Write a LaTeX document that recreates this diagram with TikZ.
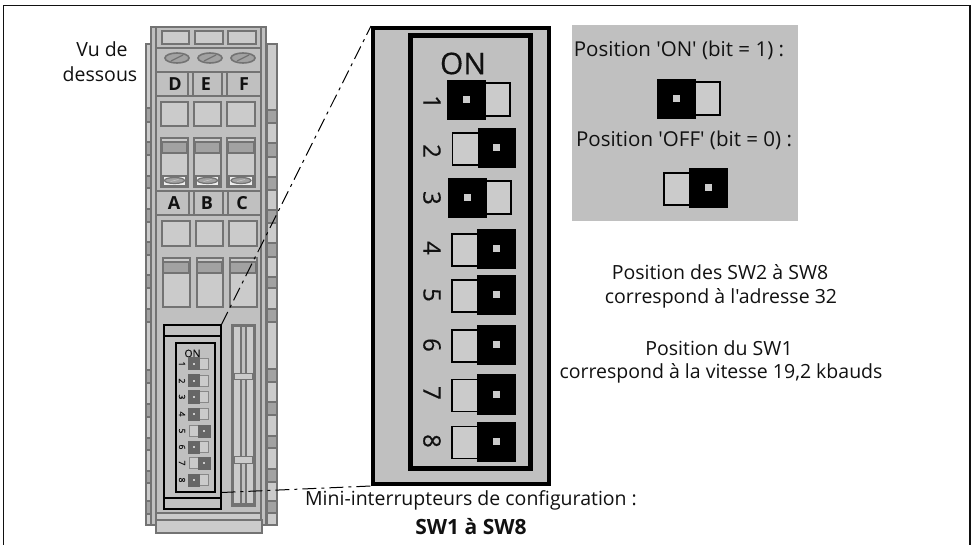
\documentclass[tikz,border=0pt]{standalone}
\usepackage{fontspec}
\usetikzlibrary{calc}
\setmainfont{Open Sans}
\newfontfamily\uifont{Open Sans}
\newfontfamily\heavyfont{Open Sans}[FakeBold=0.35]
\definecolor{bodyg}{HTML}{C0C0C0}
\definecolor{lightg}{HTML}{CBCBCB}
\definecolor{strk}{HTML}{737373}
\definecolor{darkg}{HTML}{A2A2A2}
\definecolor{minidk}{HTML}{666666}
\definecolor{inkc}{HTML}{111111}
\tikzset{
  x=1pt,y=-1pt,
  part/.style={draw=strk,fill=lightg,line width=2pt},
  partdk/.style={draw=strk,fill=darkg,line width=1.6pt},
  partbody/.style={draw=strk,fill=bodyg,line width=2pt},
  blackframe/.style={draw=black,fill=bodyg,line width=#1,rectangle,inner sep=0pt},
  swdark/.style={fill=black},
  swlight/.style={draw=black,fill=lightg,line width=1.4pt},
  swhole/.style={fill=lightg},
  mdark/.style={fill=minidk},
  mlight/.style={draw=strk!85,fill=lightg,line width=1pt},
  mhole/.style={fill=lightg},
  txt/.style={font=\uifont\fontsize{19.5}{23}\selectfont,text=inkc,inner sep=0pt},
  legendtxt/.style={font=\uifont\fontsize{20.5}{23}\selectfont,text=inkc,inner sep=0pt},
  boldtxt/.style={font=\uifont\fontsize{21}{24}\selectfont\bfseries,text=inkc,inner sep=0pt},
  letter/.style={font=\fontsize{18}{20}\selectfont\bfseries,text=inkc,inner sep=0pt},
  digit/.style={font=\heavyfont\fontsize{24}{26}\selectfont,text=inkc,inner sep=0pt,rotate=-90},
  minidigit/.style={font=\heavyfont\fontsize{8.5}{9}\selectfont,text=inkc,inner sep=0pt,rotate=-90},
  leader/.style={draw=black,line width=1pt,dash pattern=on 14pt off 5pt on 3pt off 5pt},
}
\newcommand\bigon[2]{%
  \draw[swlight] (#1+38,#2-17) rectangle (#1+63,#2+16);
  \fill[swdark] (#1,#2-20) rectangle (#1+39,#2+20);
  \fill[swhole] (#1+16,#2-3.5) rectangle (#1+23,#2+3.5);}
\newcommand\bigoff[2]{%
  \draw[swlight] (#1-25,#2-15) rectangle (#1+1,#2+17);
  \fill[swdark] (#1,#2-20) rectangle (#1+38.5,#2+20);
  \fill[swhole] (#1+15.5,#2-3.5) rectangle (#1+22.5,#2+3.5);}
\newcommand\minion[1]{%
  \draw[mlight] (199,#1-5.5) rectangle (208.5,#1+5.5);
  \fill[mdark] (187.5,#1-6.5) rectangle (200,#1+6.5);
  \fill[mhole] (193,#1-1.2) rectangle (195,#1+1.2);}
\newcommand\minioff[1]{%
  \draw[mlight] (189,#1-5.5) rectangle (199,#1+5.5);
  \fill[mdark] (198,#1-6.5) rectangle (210.5,#1+6.5);
  \fill[mhole] (203,#1-1.2) rectangle (205,#1+1.2);}
\begin{document}
\begin{tikzpicture}
\useasboundingbox (0,0) rectangle (975,545);
\fill[white] (0,0) rectangle (975,545);
\draw[inkc,line width=1.2pt] (3.5,545) -- (3.5,5.5) -- (970,5.5) -- (970,545);
\draw[part] (146,44) rectangle (151,525);
\draw[part] (267,44) rectangle (276.5,525);
\foreach \a/\b in {108/122,142/155,176/188,209/222,242/255,275/288,309/322,370/383,404/417,438/450,471/483,501/514}
  \draw[partdk] (146,\a) rectangle (151,\b);
\foreach \a/\b in {110/123,143/157,177/190,210/223,243/257,277/288,309/322,369/382,402/415,436/448,469/482,501/513}
  \draw[partdk] (267,\a) rectangle (276.5,\b);
\draw[partbody] (151,27) rectangle (266,525);
\draw[partbody] (156,27) rectangle (261,520);
\draw[part] (156,513) rectangle (261,520);
\draw[part] (155.5,520) rectangle (261.5,533);
\foreach \a/\b in {162/189,195/223,228/256} \draw[part] (\a,31) rectangle (\b,44);
\draw[strk,line width=1.8pt] (156,48) -- (261,48) (156,72) -- (261,72) (156,96) -- (261,96);
\foreach \c in {177,210,243}{
  \draw[strk,fill=darkg,line width=1.6pt] (\c,58) ellipse (12 and 5);
  \draw[strk,line width=1.3pt] (\c-6,61) -- (\c+6,55);}
\foreach \a/\b in {188/193,222/227} {\draw[strk,line width=1.5pt] (\a,72) -- (\a,96) (\b,72) -- (\b,96);}
\node[letter] (lD) at (175,84) {D};
\node[letter] (lE) at (206,84) {E};
\node[letter] (lF) at (244,84) {F};
\foreach \a/\b in {161/188,194/221,227/255} {
  \draw[part] (\a,102) rectangle (\b,126);
  \draw[part] (\a,138) rectangle (\b,187);
  \draw[partdk] (\a+1.5,142) rectangle (\b-1.5,153);
  \draw[strk,line width=1.2pt,fill=white!70!lightg] (\a+2,176) rectangle (\b-2,186);
  \draw[strk,fill=darkg,line width=1.2pt] ({(\a+\b)/2},180.5) ellipse (10 and 3);
  \draw[lightg,line width=.5pt] ({(\a+\b)/2-4},181.5) -- ({(\a+\b)/2+4},179.5);
}
\draw[strk,line width=1.8pt] (156,191) -- (262,191) (156,215) -- (261,215);
\foreach \a/\b in {189/194,223/228} {\draw[strk,line width=1.5pt] (\a,191) -- (\a,214) (\b,191) -- (\b,214);}
\node[letter] (lA) at (174,203) {A};
\node[letter] (lB) at (207,203) {B};
\node[letter] (lC) at (242,203) {C};
\foreach \a/\b in {162/190,196/223,229/257} {
  \draw[part] (\a,221.5) rectangle (\b,246);
  \draw[part] (\a+.5,258) rectangle (\b,307);
  \draw[partdk] (\a+1.5,262) rectangle (\b-1.5,273);
}
\draw[partbody] (232,325) rectangle (255,506);
\draw[part] (233,326) rectangle (241,504);
\draw[part] (246,326) rectangle (254,504);
\draw[partbody] (241,326) rectangle (246,504);
\draw[strk,line width=1pt,fill=lightg] (234,373.5) rectangle (252,380);
\draw[strk,line width=1pt,fill=lightg] (234,456.5) rectangle (252,463);
\node[blackframe=2pt,minimum width=57pt,minimum height=183pt,anchor=north west] (mini) at (162.5,324.5) {};
\draw[black,line width=2pt] (163,336) -- (219.5,336) (163,498) -- (219.5,498);
\draw[black,line width=2pt,fill=bodyg] (176,343.5) rectangle (215,491.5);
\node[font=\heavyfont\fontsize{10.5}{11}\selectfont,text=inkc,inner sep=0pt] (onmini) at (192.5,353.5) {ON};
\foreach \n/\y in {1/364,2/381,3/397,4/414,5/431,6/447,7/463,8/480}
  \node[minidigit] (md\n) at (182,\y) {\n};
\minion{364}\minion{381}\minion{397}\minion{414}\minioff{431}\minion{447}\minioff{463}\minion{480}
\node[blackframe=4pt,minimum width=176pt,minimum height=456pt,anchor=north west] (big) at (371,26) {};
\draw[black,line width=5pt] (410.5,35.5) rectangle (530.5,468.5);
\node[font=\heavyfont\fontsize{30}{32}\selectfont,text=inkc,inner sep=0pt] (onbig) at (463,63.5) {ON};
\foreach \n/\y in {1/102,2/151,3/198,4/248,5/295,6/345,7/393,8/441}
  \node[digit] (d\n) at (432,\y) {\n};
\bigon{447}{100}
\bigoff{477.5}{148}
\bigon{448}{198}
\bigoff{477}{249}
\bigoff{477}{295}
\bigoff{477}{345}
\bigoff{477}{394.5}
\bigoff{477}{441.5}
\fill[bodyg] (572,25) rectangle (798,221);
\node[legendtxt] (tOn) at (679,50) {Position 'ON' (bit = 1) :};
\node[legendtxt] (tOff) at (684,140) {Position 'OFF' (bit = 0) :};
\bigon{657}{99}
\bigoff{689}{188}
\node[txt] (vua) at (102,49) {Vu de};
\node[txt] (vub) at (100,74) {dessous};
\node[txt] (t1) at (720,272) {Position des SW2 à SW8};
\node[txt] (t2) at (721,298) {correspond à l'adresse 32};
\node[txt] (t3) at (719,348) {Position du SW1};
\node[txt] (t4) at (721,373) {correspond à la vitesse 19,2 kbauds};
\node[txt] (t5) at (471,500) {Mini-interrupteurs de configuration :};
\node[boldtxt] (t6) at (471,527) {SW1 à SW8};
\draw[leader] (mini.north east) -- (big.north west);
\draw[leader] ($(mini.south east)+(0,-17)$) -- (big.south west);
\end{tikzpicture}
\end{document}
